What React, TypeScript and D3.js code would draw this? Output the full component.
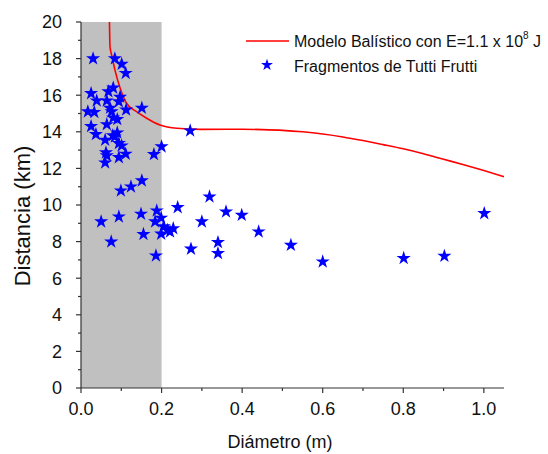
import React from 'react';
import * as d3 from 'd3';

// fragmentos: diámetro (m) y distancia (km)
const fragDiam = [
  0.03, 0.084, 0.101, 0.111, 0.025, 0.039, 0.017, 0.033, 0.068, 0.08, 0.064, 0.097, 0.094,
  0.072, 0.076, 0.112, 0.151, 0.025, 0.037, 0.064, 0.08, 0.09, 0.06, 0.079, 0.09, 0.084,
  0.094, 0.101, 0.062, 0.064, 0.06, 0.094, 0.111, 0.181, 0.2, 0.271, 0.099, 0.124, 0.151,
  0.05, 0.094, 0.075, 0.149, 0.155, 0.188, 0.184, 0.199, 0.205, 0.199, 0.186, 0.221, 0.229,
  0.215, 0.24, 0.273, 0.319, 0.3, 0.36, 0.399, 0.441, 0.34, 0.34, 0.521, 0.6, 0.801, 0.902,
  1.001,
];
const fragDist = [
  18.0, 18.0, 17.7, 17.2, 16.1, 15.7, 15.1, 15.07, 16.2, 16.4, 15.7, 15.9, 15.65,
  15.3, 15.1, 15.2, 15.3, 14.3, 13.86, 14.4, 14.77, 14.68, 13.55, 13.8, 13.95, 13.73,
  13.37, 13.24, 12.86, 12.7, 12.31, 12.6, 12.79, 12.77, 13.19, 14.06, 10.78, 11.0, 11.33,
  9.09, 9.36, 7.99, 9.51, 8.4, 9.69, 9.09, 9.29, 8.82, 8.42, 7.23, 8.54, 8.72,
  8.62, 9.87, 7.6, 10.45, 9.09, 9.63, 9.45, 8.54, 7.96, 7.36, 7.81, 6.9, 7.09, 7.21,
  9.54,
];

// modelo balístico
const modelDiam = [
  0.0705, 0.072, 0.076, 0.084, 0.097, 0.113, 0.138, 0.163, 0.196, 0.238, 0.296, 0.4, 0.45,
  0.5, 0.55, 0.6, 0.65, 0.7, 0.75, 0.8, 0.85, 0.9, 0.95, 1.0, 1.05,
];
const modelDist = [
  20.2, 18.65, 18.2, 17.4, 16.4, 15.56, 15.1, 14.74, 14.37, 14.19, 14.13, 14.14, 14.12,
  14.08, 14.0, 13.88, 13.72, 13.52, 13.3, 13.07, 12.8, 12.5, 12.2, 11.88, 11.55,
];

const xMajor = [0, 0.2, 0.4, 0.6, 0.8, 1.0];
const xMinor = [0.1, 0.3, 0.5, 0.7, 0.9];
const yMajor = [0, 2, 4, 6, 8, 10, 12, 14, 16, 18, 20];
const yMinor = [1, 3, 5, 7, 9, 11, 13, 15, 17, 19];

const W = 548;
const H = 454;
const m = { top: 22, right: 44, bottom: 66, left: 81 };
const font = '"Liberation Sans", Arial, sans-serif';

function drawChart(node: SVGSVGElement) {
  const svg = d3.select(node);
  svg.selectAll('*').remove();

  const x = d3.scaleLinear([0, 1.05], [m.left, W - m.right]);
  const y = d3.scaleLinear([0, 20], [H - m.bottom, m.top]);

  svg.append('defs').append('clipPath').attr('id', 'plot-clip')
    .append('rect')
    .attr('x', x(0)).attr('y', y(20))
    .attr('width', x(1.05) - x(0)).attr('height', y(0) - y(20));

  // zona gris 0 - 0.2 m
  svg.append('rect')
    .attr('x', x(0)).attr('y', y(20))
    .attr('width', x(0.2) - x(0)).attr('height', y(0) - y(20))
    .attr('fill', '#c0c0c0');

  // ejes
  const axis = svg.append('g').attr('stroke', '#333').attr('stroke-width', 1.2);
  axis.append('line').attr('x1', x(0)).attr('x2', x(1.05)).attr('y1', y(0)).attr('y2', y(0));
  axis.append('line').attr('x1', x(0)).attr('x2', x(0)).attr('y1', y(0)).attr('y2', y(20));

  axis.selectAll('.xmaj').data(xMajor).enter().append('line')
    .attr('x1', (d) => x(d)).attr('x2', (d) => x(d))
    .attr('y1', y(0)).attr('y2', y(0) + 5);
  axis.selectAll('.xmin').data(xMinor).enter().append('line')
    .attr('x1', (d) => x(d)).attr('x2', (d) => x(d))
    .attr('y1', y(0)).attr('y2', y(0) + 3);
  axis.selectAll('.ymaj').data(yMajor).enter().append('line')
    .attr('x1', x(0)).attr('x2', x(0) - 5)
    .attr('y1', (d) => y(d)).attr('y2', (d) => y(d));
  axis.selectAll('.ymin').data(yMinor).enter().append('line')
    .attr('x1', x(0)).attr('x2', x(0) - 3)
    .attr('y1', (d) => y(d)).attr('y2', (d) => y(d));

  svg.append('g').selectAll('text').data(xMajor).enter().append('text')
    .attr('x', (d) => x(d)).attr('y', y(0) + 27)
    .attr('text-anchor', 'middle')
    .attr('font-family', font).attr('font-size', 18).attr('fill', '#111')
    .text((d) => d3.format('.1f')(d));

  svg.append('g').selectAll('text').data(yMajor).enter().append('text')
    .attr('x', x(0) - 19).attr('y', (d) => y(d))
    .attr('dy', '0.35em')
    .attr('text-anchor', 'end')
    .attr('font-family', font).attr('font-size', 18).attr('fill', '#111')
    .text((d) => String(d));

  svg.append('text')
    .attr('x', 280).attr('y', H - 6)
    .attr('text-anchor', 'middle')
    .attr('font-family', font).attr('font-size', 18).attr('fill', '#111')
    .text('Diámetro (m)');

  svg.append('text')
    .attr('transform', `translate(30, ${(m.top + H - m.bottom) / 2 + 11}) rotate(-90)`)
    .attr('text-anchor', 'middle')
    .attr('font-family', font).attr('font-size', 22).attr('fill', '#111')
    .text('Distancia (km)');

  // curva del modelo
  const line = d3.line<number>()
    .x((d) => x(d))
    .y((_, i) => y(modelDist[i]))
    .curve(d3.curveMonotoneX);
  svg.append('path')
    .datum(modelDiam)
    .attr('clip-path', 'url(#plot-clip)')
    .attr('d', line)
    .attr('fill', 'none')
    .attr('stroke', '#ff0000')
    .attr('stroke-width', 1.6);

  // fragmentos
  const star = d3.symbol(d3.symbolStar, 62);
  svg.append('g').selectAll('path').data(fragDiam).enter().append('path')
    .attr('transform', (d, i) => `translate(${x(d)},${y(fragDist[i])})`)
    .attr('d', star())
    .attr('fill', '#0000ff');

  // leyenda
  const lg = svg.append('g').attr('font-family', font).attr('font-size', 16).attr('fill', '#111');
  lg.append('line')
    .attr('x1', 246).attr('x2', 289).attr('y1', 41).attr('y2', 41)
    .attr('stroke', '#ff0000').attr('stroke-width', 1.6);
  const t1 = lg.append('text').attr('x', 294).attr('y', 47);
  t1.append('tspan').text('Modelo Balístico con E=1.1 x 10');
  t1.append('tspan').attr('dy', -8).attr('font-size', 10).text('8');
  t1.append('tspan').attr('dy', 8).text(' J');

  lg.append('path')
    .attr('transform', 'translate(267,65)')
    .attr('d', d3.symbol(d3.symbolStar, 44)())
    .attr('fill', '#0000ff');
  lg.append('text').attr('x', 294).attr('y', 72).text('Fragmentos de Tutti Frutti');
}

export default function App() {
  const ref = React.useRef<SVGSVGElement>(null);
  React.useEffect(() => {
    if (ref.current) drawChart(ref.current);
  }, []);
  return (
    <svg
      ref={ref}
      width={W}
      height={H}
      style={{ display: 'block', position: 'absolute', left: 0, top: 0, background: '#fff' }}
    />
  );
}
